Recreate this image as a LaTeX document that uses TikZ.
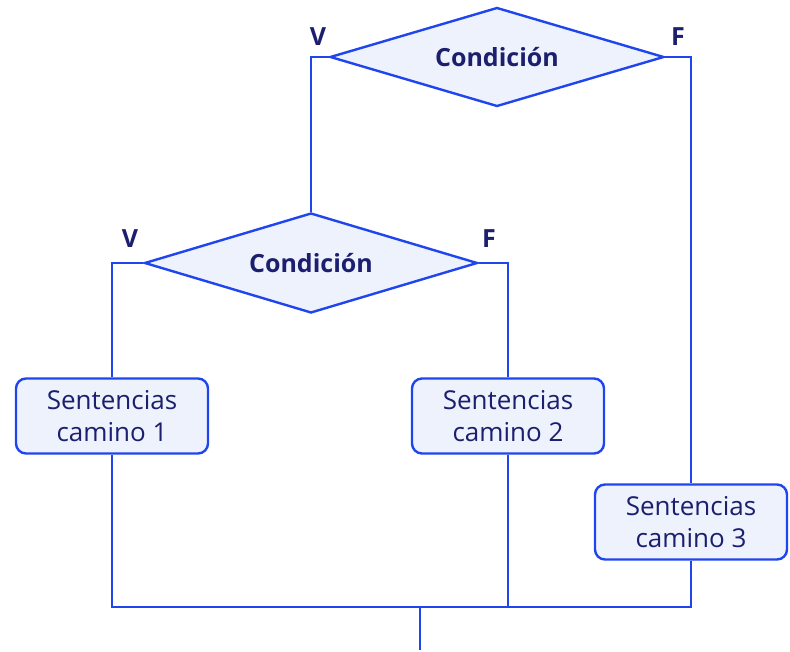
\documentclass[tikz,border=0pt]{standalone}
\usepackage{fontspec}
\setmainfont{Open Sans}
\usetikzlibrary{shapes.geometric}

\definecolor{linea}{HTML}{1F45EE}
\definecolor{relleno}{HTML}{EEF2FD}
\definecolor{texto}{HTML}{1B1F6E}

\tikzset{
  decision/.style={diamond, aspect=3.37, draw=linea, fill=relleno, line width=2.4pt, inner sep=0pt,
    text=texto, font=\fontsize{25}{28}\selectfont\bfseries},
  sentencia/.style={rectangle, rounded corners=10pt, draw=linea, fill=relleno, line width=2.4pt,
    minimum width=192pt, minimum height=75pt, inner sep=0pt, align=center, text=texto,
    font=\fontsize{26}{32}\selectfont},
  rama/.style={text=texto, font=\fontsize{25}{28}\selectfont\bfseries},
  flujo/.style={draw=linea, line width=2.4pt}
}

\begin{document}
\begin{tikzpicture}[x=1pt,y=-1pt]
      \useasboundingbox (0,0) rectangle (790,652);
      \node[decision, minimum width=334pt, minimum height=99pt] (c1) at (497,57) {Condición};
      \node[decision, minimum width=333pt, minimum height=100pt] (c2) at (311,263) {Condición};
      \node[sentencia] (s1) at (112,416) {Sentencias\\camino 1};
      \node[sentencia] (s2) at (508,416) {Sentencias\\camino 2};
      \node[sentencia] (s3) at (691,522) {Sentencias\\camino 3};
      \coordinate (j) at (420,607);
      \coordinate (e) at (420,650);
      \node[rama] (v1) at (318,37) {V};
      \node[rama] (f1) at (678,37) {F};
      \node[rama] (v2) at (130,239) {V};
      \node[rama] (f2) at (489,239) {F};
      \draw[flujo] (c1.west) -| (c2.north);
      \draw[flujo] (c1.east) -| (s3.north);
      \draw[flujo] (c2.west) -| (s1.north);
      \draw[flujo] (c2.east) -| (s2.north);
      \draw[flujo] (s1.south) |- (j);
      \draw[flujo] (s3.south) |- (j);
      \draw[flujo] (s2.south) -- (s2.south |- j);
      \draw[flujo] (j) -- (e);
    \end{tikzpicture}
\end{document}
